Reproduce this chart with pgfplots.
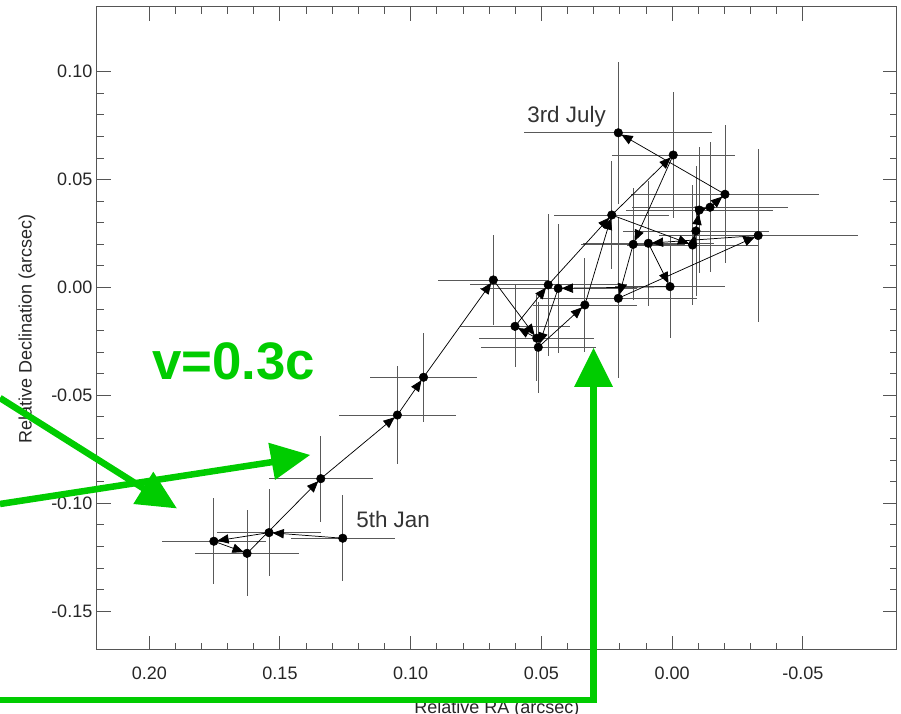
\documentclass[border=0pt]{standalone}
\usepackage{fontspec}
\setmainfont{Liberation Sans}
\usepackage{pgfplots}
\usepackage{pgfplotstable}
\pgfplotsset{compat=1.18}
\usetikzlibrary{arrows.meta}
\definecolor{annogreen}{HTML}{00CC00}
\definecolor{axgray}{HTML}{555555}

% positions with errors (arcsec)
\pgfplotstableread{
x y ex ey
0.1260 -0.1162 0.0198 0.0200
0.1542 -0.1136 0.0200 0.0200
0.1753 -0.1176 0.0198 0.0199
0.1626 -0.1232 0.0199 0.0200
0.1344 -0.0886 0.0199 0.0200
0.1051 -0.0591 0.0224 0.0225
0.0951 -0.0416 0.0205 0.0207
0.0684 0.0035 0.0210 0.0210
0.0601 -0.0180 0.0210 0.0190
0.0518 -0.0235 0.0220 0.0200
0.0512 -0.0277 0.0220 0.0210
0.0474 0.0012 0.0300 0.0330
0.0436 -0.0004 0.0300 0.0300
0.0334 -0.0081 0.0200 0.0220
0.0206 -0.0050 0.0300 0.0370
0.0008 0.0004 0.0210 0.0240
0.0231 0.0336 0.0220 0.0250
0.0149 0.0200 0.0200 0.0260
0.0091 0.0205 0.0250 0.0290
-0.0078 0.0197 0.0250 0.0280
-0.0091 0.0262 0.0280 0.0300
-0.0104 0.0359 0.0280 0.0290
-0.0145 0.0372 0.0300 0.0300
-0.0202 0.0432 0.0360 0.0320
-0.0329 0.0241 0.0380 0.0400
-0.0004 0.0614 0.0236 0.0290
0.0206 0.0717 0.0360 0.0330
}\points

% track: each row is one step, from (x,y) to (nx,ny)
\pgfplotstableread{
x y nx ny
0.1260 -0.1162 0.1542 -0.1136
0.1542 -0.1136 0.1753 -0.1176
0.1753 -0.1176 0.1626 -0.1232
0.1626 -0.1232 0.1344 -0.0886
0.1344 -0.0886 0.1051 -0.0591
0.1051 -0.0591 0.0951 -0.0416
0.0951 -0.0416 0.0684 0.0035
0.0684 0.0035 0.0518 -0.0235
0.0518 -0.0235 0.0601 -0.0180
0.0601 -0.0180 0.0474 0.0012
0.0474 0.0012 0.0231 0.0336
0.0231 0.0336 -0.0004 0.0614
-0.0004 0.0614 0.0149 0.0200
0.0149 0.0200 0.0206 -0.0050
0.0206 -0.0050 -0.0329 0.0241
-0.0329 0.0241 0.0091 0.0205
0.0091 0.0205 0.0008 0.0004
0.0008 0.0004 0.0436 -0.0004
0.0436 -0.0004 0.0512 -0.0277
0.0512 -0.0277 0.0334 -0.0081
0.0334 -0.0081 0.0231 0.0336
0.0231 0.0336 -0.0078 0.0197
-0.0078 0.0197 -0.0091 0.0262
-0.0091 0.0262 -0.0104 0.0359
-0.0104 0.0359 -0.0145 0.0372
-0.0145 0.0372 -0.0202 0.0432
-0.0202 0.0432 0.0206 0.0717
}\track

\begin{document}
\begin{tikzpicture}
\useasboundingbox (0pt,0pt) rectangle (675.75pt,535.5pt);
\begin{axis}[
  at={(72.75pt,48pt)}, anchor=south west,
  scale only axis, width=600pt, height=482.25pt,
  x dir=reverse,
  xmin=-0.086, xmax=0.22, ymin=-0.168, ymax=0.13,
  xtick={-0.05,0,0.05,0.10,0.15,0.20},
  ytick={-0.15,-0.10,-0.05,0,0.05,0.10},
  minor tick num=4,
  tick align=inside, tick pos=both,
  major tick length=10.5pt, minor tick length=5.25pt,
  axis line style={axgray, line width=0.75pt},
  tick style={axgray, line width=0.75pt},
  ticklabel style={font=\fontsize{13.5}{16}\selectfont, text=black!85},
  xticklabel shift=9pt,
  /pgf/number format/fixed, /pgf/number format/fixed zerofill,
  /pgf/number format/precision=2, /pgf/number format/assume math mode=true,
  xlabel={Relative RA (arcsec)}, ylabel={Relative Declination (arcsec)},
  every axis x label/.style={at={(axis description cs:0.5,-0.092)}, anchor=center},
  every axis y label/.style={at={(axis description cs:-0.0875,0.5)}, rotate=90, anchor=center},
  label style={font=\fontsize{13.5}{16}\selectfont, text=black!85},
]
\addplot[only marks, mark=none,
  error bars/.cd, x dir=both, x explicit, y dir=both, y explicit, error mark=none,
  error bar style={draw=black!65, line width=0.65pt}]
  table[x=x, y=y, x error=ex, y error=ey] {\points};
\addplot[black, line width=0.55pt,
  quiver={u=\thisrow{nx}-\thisrow{x}, v=\thisrow{ny}-\thisrow{y},
    every arrow/.append style={-{Triangle[length=8.5pt, width=7pt]}, shorten >=2.6pt}}]
  table[x=x, y=y] {\track};
\addplot[only marks, mark=*, mark size=3.2pt, black] table[x=x, y=y] {\points};
\node[anchor=base west, inner sep=0, text=black!80, font=\fontsize{16.8}{18}\selectfont]
  at (axis cs:0.0555,0.0766) {3rd July};
\node[anchor=base west, inner sep=0, text=black!80, font=\fontsize{16.8}{18}\selectfont]
  at (axis cs:0.1209,-0.1111) {5th Jan};
\end{axis}
% green overlay (units = reference pixels, y up)
\begin{scope}[x=0.75pt, y=0.75pt]
\draw[annogreen, line width=4.9pt] (0,14) -- (593.3,14) -- (593.3,330);
\fill[annogreen] (574,327) -- (613,327) -- (593.5,366) -- cycle;
\draw[annogreen, line width=4.9pt] (0,316) -- (146,224);
\fill[annogreen] (133.3,210) -- (153.3,242.3) -- (176.7,205.7) -- cycle;
\draw[annogreen, line width=4.9pt] (0,210) -- (274,252.2);
\fill[annogreen] (268.3,271.3) -- (275,234) -- (310,259) -- cycle;
\node[anchor=base west, inner sep=0, text=annogreen, font=\bfseries\fontsize{39.6}{42}\selectfont]
  at (152,334) {v=0.3c};
\end{scope}
\end{tikzpicture}
\end{document}
